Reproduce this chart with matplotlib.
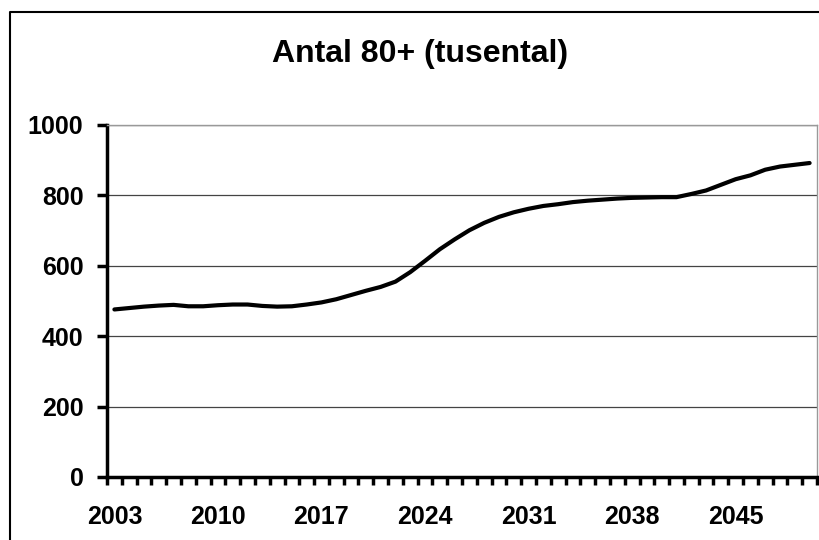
import matplotlib
matplotlib.use("Agg")
import matplotlib.pyplot as plt
from matplotlib.lines import Line2D

# Antal personer 80+ (tusental), 2003-2050
years = list(range(2003, 2051))
antal = [476, 480, 484, 487, 489, 485, 485, 488, 490, 490,
         486, 484, 485, 490, 496, 505, 517, 529, 540, 555,
         582, 614, 647, 675, 701, 722, 739, 752, 762, 770,
         775, 781, 785, 788, 791, 793, 794, 795, 795, 804,
         814, 830, 846, 857, 873, 882, 887, 892]
y_ticks = [0, 200, 400, 600, 800, 1000]
label_step = 7

plt.rcParams['font.family'] = ['Liberation Sans', 'DejaVu Sans']
plt.rcParams['font.weight'] = 'bold'

fig = plt.figure(figsize=(8.19, 5.4), dpi=100)

# chart area border, only left and top edges are inside the picture
bx, by = 9.5 / 819, 1 - 11.5 / 540
fig.lines.append(Line2D([bx, bx, 1.0], [0, by, by], transform=fig.transFigure,
                        color='black', linewidth=1.5))

ax = fig.add_axes([107 / 819, 63 / 540, 710 / 819, 352 / 540])

x = list(range(len(years)))
ax.plot(x, antal, color='black', linewidth=3, solid_capstyle='round',
        solid_joinstyle='round', zorder=3)

ax.set_xlim(-0.5, len(years) - 0.5)
ax.set_ylim(0, 1000)

ax.set_yticks(y_ticks)
ax.set_yticklabels([str(v) for v in y_ticks])
ax.yaxis.grid(True, color='#444444', linewidth=0.9)
ax.set_axisbelow(True)

# ticks between categories, labels every 7th year
ax.set_xticks([i - 0.5 for i in range(len(years) + 1)])
ax.set_xticklabels([])
ax.set_xticks(x[::label_step], minor=True)
ax.set_xticklabels([str(y) for y in years[::label_step]], minor=True)

ax.tick_params(axis='x', which='major', direction='out', length=6, width=2.5,
               color='black')
ax.tick_params(axis='x', which='minor', length=0, pad=20, labelsize=18)
ax.tick_params(axis='y', direction='out', length=7, width=2.5,
               pad=10, labelsize=18)

for side in ['top', 'right']:
    ax.spines[side].set_color('#999999')
    ax.spines[side].set_linewidth(1)
for side in ['left', 'bottom']:
    ax.spines[side].set_color('black')
    ax.spines[side].set_linewidth(2.5)

fig.text(420 / 819, 1 - 62 / 540, 'Antal 80+ (tusental)', ha='center',
         va='baseline', fontsize=23, fontweight='bold')

fig.savefig('out.png', dpi=100)
